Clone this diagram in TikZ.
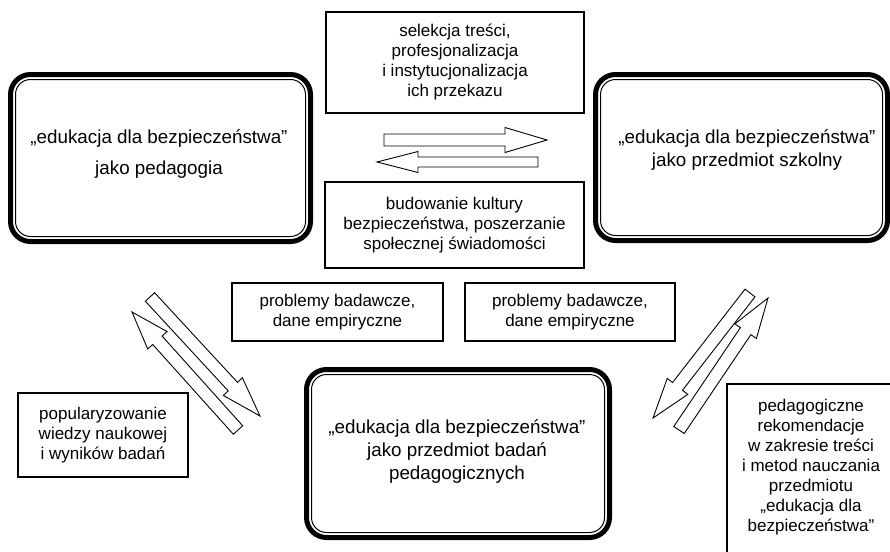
\documentclass[tikz,border=0pt]{standalone}
\usepackage{fontspec}
\setmainfont{Liberation Sans}
\usetikzlibrary{calc,fit}
\tikzset{
  bigtext/.style={font=\fontsize{18.8}{23}\selectfont, align=center, inner sep=0pt},
  smalltext/.style={font=\fontsize{17}{20}\selectfont, align=center, inner sep=0pt},
  rectbox/.style={draw=black, line width=1.2pt, inner sep=0pt, outer sep=0pt},
  innerframe/.style={draw, line width=1pt, rounded corners=15pt, inner sep=0pt, outer sep=0pt},
  outerframe/.style={draw, line width=5pt, rounded corners=20pt, inner sep=5pt, outer sep=0pt},
  blockarrow/.style={draw, line width=0.9pt, fill=white, line join=miter},
}
\newcommand\blockarr[5]{%
  \coordinate (hb) at ($(#2)!#5!(#1)$);
  \draw[blockarrow] ($(#1)!#3!90:(#2)$) -- ($(hb)!#3!90:(#2)$) -- ($(hb)!#4!90:(#2)$) -- (#2)
    -- ($(hb)!#4!-90:(#2)$) -- ($(hb)!#3!-90:(#2)$) -- ($(#1)!#3!-90:(#2)$) -- cycle;
}
\begin{document}
\begin{tikzpicture}[x=1pt,y=-1pt]
\clip (0,0) rectangle (890,551);
\fill[white] (0,0) rectangle (890,551);

% double-framed boxes
\node[innerframe, minimum width=290pt, minimum height=157pt] (pedF) at (160.5,158) {};
\node[outerframe, fit=(pedF)] (pedO) {};
\node[bigtext] (pedT) at (159,154) {„edukacja dla bezpieczeństwa”\\[8pt]jako pedagogia};

\node[innerframe, minimum width=282pt, minimum height=156pt] (szkF) at (741.5,157.5) {};
\node[outerframe, fit=(szkF)] (szkO) {};
\node[bigtext] (szkT) at (747,150) {„edukacja dla bezpieczeństwa”\\jako przedmiot szkolny};

\node[innerframe, minimum width=293pt, minimum height=158pt] (badF) at (458,453.5) {};
\node[outerframe, fit=(badF)] (badO) {};
\node[bigtext] (badT) at (457,452) {„edukacja dla bezpieczeństwa”\\jako przedmiot badań\\pedagogicznych};

% rectangular boxes
\node[rectbox, smalltext, minimum width=258pt, minimum height=101pt] (sel) at (455,62.5)
  {selekcja treści,\\profesjonalizacja\\i instytucjonalizacja\\ich przekazu};
\node[rectbox, smalltext, minimum width=259pt, minimum height=86pt] (bud) at (454.5,225)
  {budowanie kultury\\bezpieczeństwa, poszerzanie\\społecznej świadomości};
\node[rectbox, smalltext, minimum width=211pt, minimum height=58pt] (prob1) at (337.5,312)
  {problemy badawcze,\\dane empiryczne};
\node[rectbox, smalltext, minimum width=210pt, minimum height=58pt] (prob2) at (570,312)
  {problemy badawcze,\\dane empiryczne};
\node[rectbox, smalltext, minimum width=170pt, minimum height=84pt] (pop) at (103,435)
  {popularyzowanie\\wiedzy naukowej\\i wyników badań};
\node[rectbox, minimum width=185pt, minimum height=185pt, anchor=north west] (rek) at (727,384) {};
\node[smalltext] (rekT) at (811,467)
  {pedagogiczne\\rekomendacje\\w zakresie treści\\i metod nauczania\\przedmiotu\\„edukacja dla\\bezpieczeństwa”};

% block arrows
\coordinate (hr1) at (384,140); \coordinate (hr2) at (547,140);
\coordinate (hl1) at (538,162); \coordinate (hl2) at (377,162);
\coordinate (dl1a) at (150,297); \coordinate (dl1b) at (260,416);
\coordinate (dl2a) at (238,430); \coordinate (dl2b) at (132,312);
\coordinate (dr1a) at (750,293); \coordinate (dr1b) at (653,418);
\coordinate (dr2a) at (679,430); \coordinate (dr2b) at (768,298);

\blockarr{hr1}{hr2}{6pt}{12.5pt}{42pt}
\blockarr{hl1}{hl2}{5pt}{10.5pt}{41pt}
\blockarr{dl1a}{dl1b}{6.3pt}{13pt}{40pt}
\blockarr{dl2a}{dl2b}{6.3pt}{13pt}{38pt}
\blockarr{dr1a}{dr1b}{6.3pt}{13pt}{40pt}
\blockarr{dr2a}{dr2b}{6.3pt}{13pt}{40pt}
\end{tikzpicture}
\end{document}
